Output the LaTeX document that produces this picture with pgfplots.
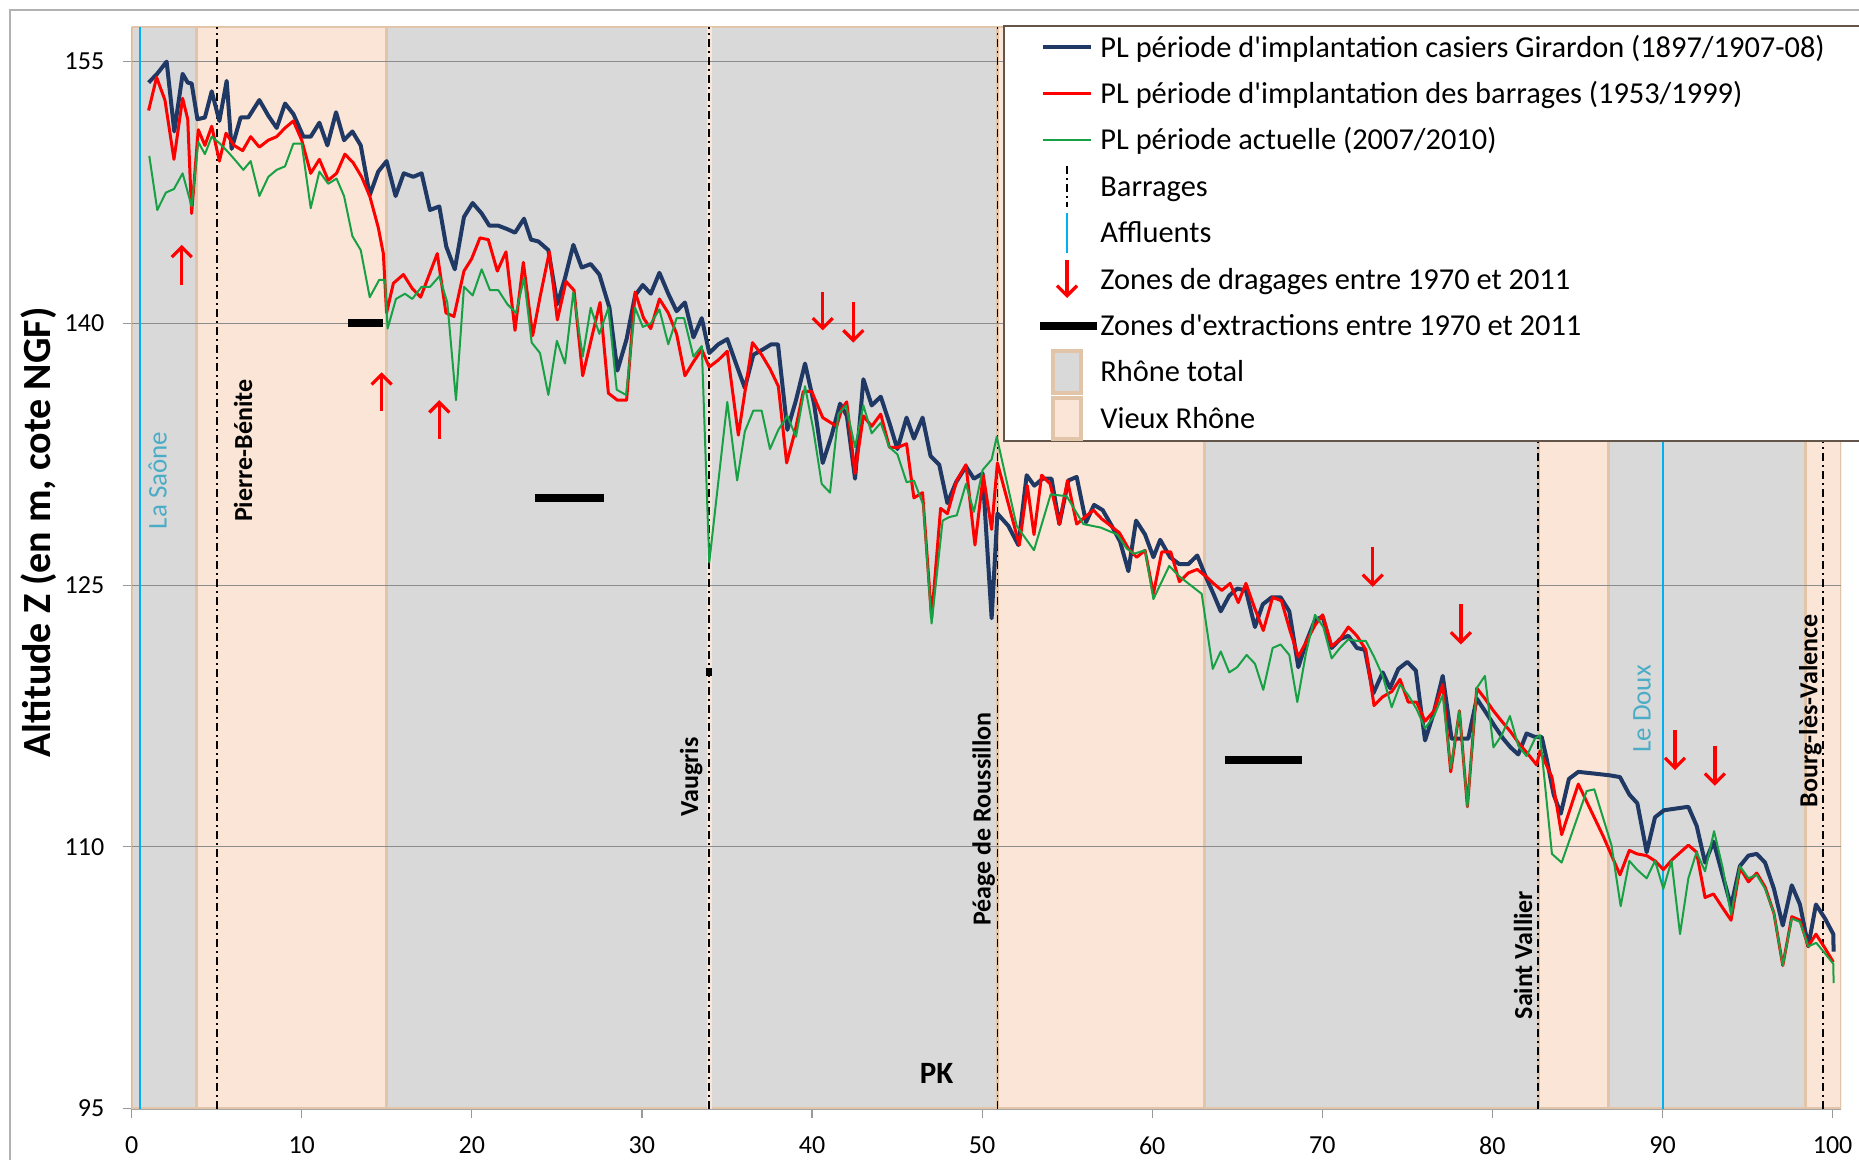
\documentclass[border=0pt]{standalone}
\usepackage{pgfplots}
\pgfplotsset{compat=1.18}
\usepackage{fontspec}
\setmainfont{Carlito}[Ligatures=TeXOff]
\usetikzlibrary{arrows.meta}
\definecolor{girardon}{RGB}{31,56,100}
\definecolor{barr}{RGB}{255,0,0}
\definecolor{actu}{RGB}{24,160,69}
\definecolor{bandgray}{RGB}{217,217,217}
\definecolor{peach}{RGB}{251,229,214}
\definecolor{tanb}{RGB}{226,196,168}
\definecolor{affl}{RGB}{0,176,240}
\definecolor{afftext}{RGB}{75,172,198}
\definecolor{gridc}{RGB}{140,140,140}
\definecolor{legb}{RGB}{100,85,75}
\newcommand{\legfont}{\fontsize{15.2bp}{18bp}\selectfont}
\tikzset{damline/.style={black, line width=0.9bp, dash pattern=on 4bp off 2bp on 1bp off 2bp},
  dragarrow/.style={red, line width=1.6bp, -{Straight Barb[length=5bp,width=10bp,line width=1.6bp]}}}

\pgfplotstableread[row sep=\\]{
x y\\
1.0 153.8\\ 1.5 154.3\\ 2.06 155.0\\ 2.51 151.0\\ 3.0 154.3\\ 3.3 153.8\\ 3.53 153.75\\ 3.87 151.7\\
4.31 151.8\\ 4.71 153.3\\ 5.16 151.6\\ 5.59 153.9\\ 5.88 150.0\\ 6.41 151.8\\ 6.86 151.8\\ 7.51 152.8\\
8.04 151.9\\ 8.53 151.2\\ 9.02 152.6\\ 9.51 152.0\\ 10.1 150.7\\ 10.53 150.7\\ 11.04 151.5\\ 11.51 150.2\\
12.02 152.1\\ 12.49 150.5\\ 12.98 151.0\\ 13.47 150.2\\ 14.0 147.35\\ 14.5 148.7\\ 14.99 149.3\\ 15.52 147.3\\
16.0 148.6\\ 16.56 148.4\\ 17.05 148.6\\ 17.54 146.5\\ 18.09 146.7\\ 18.5 144.4\\ 19.0 143.1\\ 19.54 146.1\\
20.05 146.9\\ 20.58 146.3\\ 21.03 145.6\\ 21.56 145.6\\ 22.09 145.4\\ 22.54 145.2\\ 23.07 146.0\\ 23.48 144.8\\
23.91 144.7\\ 24.5 144.2\\ 25.03 141.1\\ 25.48 142.6\\ 25.97 144.5\\ 26.46 143.2\\ 26.99 143.4\\ 27.5 142.8\\
28.09 140.9\\ 28.56 137.3\\ 29.1 139.1\\ 29.6 141.6\\ 30.05 142.2\\ 30.52 141.7\\ 31.03 142.9\\ 31.55 141.7\\
32.04 140.7\\ 32.53 141.2\\ 33.03 139.2\\ 33.52 140.3\\ 33.96 138.3\\ 34.49 138.8\\ 35.02 139.1\\ 35.53 137.7\\
36.05 136.3\\ 36.55 138.2\\ 37.1 138.5\\ 37.6 138.8\\ 38.0 138.8\\ 38.55 133.9\\ 39.06 135.6\\ 39.59 137.7\\
40.12 135.4\\ 40.63 132.0\\ 41.16 133.6\\ 41.65 135.4\\ 42.05 134.7\\ 42.53 131.1\\ 43.02 136.8\\ 43.51 135.3\\
44.04 135.8\\ 44.55 134.3\\ 45.02 132.8\\ 45.56 134.6\\ 45.99 133.4\\ 46.5 134.6\\ 46.97 132.4\\ 47.48 131.9\\
47.96 129.7\\ 48.47 130.9\\ 49.05 131.8\\ 49.52 131.1\\ 50.03 131.4\\ 50.56 123.1\\ 50.9 129.1\\ 51.54 128.4\\
52.13 127.3\\ 52.62 131.3\\ 53.07 130.7\\ 53.56 131.1\\ 54.08 131.1\\ 54.54 128.5\\ 55.07 131.0\\ 55.56 131.2\\
56.11 128.6\\ 56.58 129.6\\ 57.09 129.3\\ 57.62 128.4\\ 58.11 127.5\\ 58.6 125.8\\ 59.05 128.7\\ 59.58 127.9\\
60.07 126.6\\ 60.47 127.6\\ 61.05 126.6\\ 61.6 126.2\\ 62.12 126.2\\ 62.65 126.7\\ 63.1 125.6\\ 63.6 124.5\\
64.03 123.5\\ 64.53 124.4\\ 65.0 124.8\\ 65.51 124.7\\ 66.04 122.6\\ 66.5 123.9\\ 67.02 124.3\\ 67.55 124.3\\
68.06 123.5\\ 68.59 120.3\\ 69.08 121.8\\ 69.57 123.0\\ 70.02 123.2\\ 70.55 121.4\\ 71.04 121.9\\ 71.53 122.1\\
72.03 121.4\\ 72.5 121.3\\ 73.0 118.8\\ 73.55 120.0\\ 73.98 119.1\\ 74.47 120.2\\ 75.0 120.6\\ 75.5 120.1\\
76.04 116.1\\ 76.53 117.6\\ 77.08 119.8\\ 77.6 116.2\\ 78.1 116.2\\ 78.58 116.2\\ 79.08 118.5\\ 79.62 117.7\\
80.15 116.9\\ 80.64 116.2\\ 81.07 115.7\\ 81.52 115.3\\ 82.01 116.5\\ 82.5 116.3\\ 82.9 116.3\\ 83.2 115.0\\
83.6 113.0\\ 84.02 111.9\\ 84.5 113.9\\ 85.05 114.3\\ 86.0 114.2\\ 86.91 114.1\\ 87.5 114.0\\ 88.05 113.0\\
88.52 112.5\\ 89.07 109.7\\ 89.56 111.7\\ 90.09 112.1\\ 91.52 112.3\\ 92.01 111.2\\ 92.5 109.1\\ 93.0 110.3\\
94.03 106.6\\ 94.55 108.9\\ 95.05 109.5\\ 95.54 109.6\\ 96.03 109.1\\ 96.55 107.6\\ 97.07 105.5\\ 97.6 107.8\\
98.08 106.7\\ 98.57 104.3\\ 99.02 106.7\\ 99.55 105.9\\ 100.04 105.0\\ 100.06 104.0\\
}\girardon

\pgfplotstableread[row sep=\\]{
x y\\
1.0 152.2\\ 1.47 154.1\\ 1.96 152.8\\ 2.49 149.4\\ 3.0 152.9\\ 3.3 151.7\\ 3.53 146.3\\ 3.92 151.1\\
4.31 150.2\\ 4.71 151.3\\ 5.16 149.3\\ 5.55 150.9\\ 6.02 150.2\\ 6.53 149.9\\ 7.0 150.7\\ 7.51 150.1\\
8.04 150.5\\ 8.53 150.7\\ 9.02 151.2\\ 9.51 151.6\\ 10.0 150.5\\ 10.53 148.6\\ 11.04 149.4\\ 11.56 148.2\\
12.05 148.6\\ 12.54 149.7\\ 13.03 149.2\\ 13.52 148.4\\ 14.0 147.3\\ 14.5 145.5\\ 14.8 144.0\\ 14.99 140.6\\
15.39 142.3\\ 15.98 142.8\\ 16.5 142.0\\ 16.99 141.5\\ 17.97 144.0\\ 18.48 140.6\\ 18.95 140.4\\ 19.54 143.0\\
19.99 143.7\\ 20.48 144.9\\ 20.97 144.8\\ 21.5 143.0\\ 22.01 144.1\\ 22.54 139.6\\ 23.03 143.5\\ 23.58 139.3\\
24.01 141.5\\ 24.56 144.1\\ 25.03 140.2\\ 25.54 142.4\\ 26.01 141.9\\ 26.52 137.0\\ 27.05 139.2\\ 27.54 141.2\\
28.03 136.0\\ 28.56 135.6\\ 29.1 135.6\\ 29.6 141.8\\ 30.1 140.3\\ 30.52 139.7\\ 31.03 141.4\\ 31.55 140.6\\
32.04 139.4\\ 32.53 137.0\\ 33.03 137.8\\ 33.52 138.5\\ 33.96 137.5\\ 34.49 137.9\\ 35.02 138.4\\ 35.67 133.6\\
36.5 138.9\\ 37.04 138.2\\ 37.53 137.4\\ 38.02 136.4\\ 38.51 132.0\\ 39.0 133.8\\ 39.49 136.1\\ 39.98 136.1\\
40.63 134.6\\ 41.45 134.1\\ 41.75 135.1\\ 42.04 135.5\\ 42.53 131.4\\ 43.02 134.7\\ 43.51 134.1\\ 44.04 134.8\\
44.55 132.9\\ 45.07 132.9\\ 45.56 133.1\\ 45.99 130.0\\ 46.5 130.3\\ 47.03 123.1\\ 47.56 129.4\\ 47.96 129.1\\
48.51 131.0\\ 49.05 131.9\\ 49.58 127.3\\ 50.07 131.3\\ 50.56 128.2\\ 50.9 132.0\\ 52.19 127.3\\ 52.66 130.7\\
53.05 127.9\\ 53.5 131.3\\ 54.0 130.8\\ 54.54 128.5\\ 55.02 131.0\\ 55.56 128.5\\ 56.05 128.9\\ 56.54 129.3\\
57.03 128.8\\ 57.56 128.4\\ 58.07 128.0\\ 58.6 127.1\\ 59.09 126.6\\ 59.58 127.0\\ 60.07 124.5\\ 60.56 126.9\\
61.09 126.9\\ 61.6 125.2\\ 62.12 125.7\\ 62.65 125.9\\ 63.16 125.5\\ 63.6 125.1\\ 64.09 124.7\\ 64.58 125.1\\
65.06 124.0\\ 65.51 125.1\\ 65.98 123.8\\ 66.53 122.4\\ 67.08 124.3\\ 67.6 124.1\\ 68.1 122.4\\ 68.59 120.9\\
69.08 121.8\\ 69.57 122.7\\ 70.02 123.3\\ 70.55 121.5\\ 71.04 121.9\\ 71.53 122.6\\ 72.03 122.1\\ 72.56 121.3\\
73.04 118.1\\ 73.55 118.6\\ 74.08 118.9\\ 74.57 119.6\\ 75.05 118.3\\ 75.54 118.3\\ 76.04 117.2\\ 76.57 117.8\\
77.08 119.3\\ 77.55 114.3\\ 78.06 117.8\\ 78.53 112.3\\ 79.08 119.1\\ 79.56 118.5\\ 80.06 117.8\\ 80.55 117.2\\
81.07 116.6\\ 81.58 115.9\\ 82.11 115.3\\ 82.6 114.7\\ 82.8 115.5\\ 83.5 114.0\\ 84.07 110.7\\ 85.05 113.6\\
86.52 110.6\\ 87.5 108.4\\ 88.05 109.8\\ 88.5 109.6\\ 89.07 109.5\\ 89.56 109.2\\ 90.05 108.7\\ 90.6 109.3\\
91.52 110.1\\ 92.0 109.7\\ 92.5 107.1\\ 93.0 107.3\\ 93.54 106.5\\ 94.03 105.8\\ 94.55 108.8\\ 95.05 108.0\\
95.54 108.5\\ 96.03 107.7\\ 96.55 106.2\\ 97.07 103.2\\ 97.6 106.0\\ 98.08 105.8\\ 98.57 104.3\\ 99.02 105.0\\
99.55 104.2\\ 100.04 103.4\\
}\barrages

\pgfplotstableread[row sep=\\]{
x y\\
1.04 149.6\\ 1.51 146.5\\ 2.02 147.5\\ 2.49 147.7\\ 3.0 148.6\\ 3.53 146.7\\ 3.92 150.4\\ 4.31 149.7\\
4.71 150.7\\ 5.2 150.3\\ 5.69 149.8\\ 6.14 149.3\\ 6.57 148.8\\ 7.0 149.3\\ 7.51 147.3\\ 8.04 148.4\\
8.53 148.8\\ 9.02 149.0\\ 9.51 150.3\\ 10.0 150.3\\ 10.53 146.6\\ 11.04 148.7\\ 11.56 148.0\\ 12.05 148.3\\
12.49 147.3\\ 12.98 145.0\\ 13.47 144.2\\ 14.0 141.5\\ 14.56 142.5\\ 14.9 142.5\\ 15.05 139.7\\ 15.54 141.4\\
16.07 141.7\\ 16.5 141.4\\ 17.05 142.1\\ 17.55 142.1\\ 18.09 142.7\\ 18.56 141.2\\ 19.07 135.6\\ 19.54 142.1\\
20.05 141.6\\ 20.58 143.1\\ 21.07 141.9\\ 21.56 141.9\\ 22.09 141.1\\ 22.6 140.6\\ 23.07 142.6\\ 23.52 138.9\\
24.01 138.3\\ 24.5 135.9\\ 25.0 139.0\\ 25.48 137.7\\ 25.97 141.8\\ 26.52 138.1\\ 26.99 140.9\\ 27.5 139.4\\
28.03 140.9\\ 28.52 136.2\\ 29.07 135.9\\ 29.6 140.9\\ 30.05 139.8\\ 30.52 140.0\\ 31.03 140.8\\ 31.55 138.8\\
32.04 140.3\\ 32.48 140.3\\ 33.03 138.1\\ 33.52 138.7\\ 33.96 126.3\\ 35.02 135.5\\ 35.6 131.0\\ 36.05 133.8\\
36.55 135.0\\ 37.04 135.0\\ 37.53 132.8\\ 38.02 133.9\\ 38.55 134.7\\ 39.06 133.5\\ 39.59 136.4\\ 40.08 133.9\\
40.57 130.8\\ 41.06 130.3\\ 41.55 134.8\\ 42.0 135.3\\ 42.53 132.9\\ 43.02 135.3\\ 43.51 133.7\\ 44.04 134.3\\
44.55 132.9\\ 45.02 132.5\\ 45.56 130.9\\ 45.99 131.0\\ 46.54 129.6\\ 47.03 122.8\\ 47.68 128.7\\ 48.07 128.9\\
48.51 129.0\\ 49.05 130.8\\ 49.52 129.2\\ 50.03 131.6\\ 50.56 132.2\\ 50.86 133.5\\ 52.03 128.4\\ 53.05 127.0\\
54.03 130.2\\ 54.97 130.1\\ 55.95 128.5\\ 56.97 128.3\\ 57.95 127.9\\ 58.5 127.1\\ 58.93 126.8\\ 59.58 127.0\\
60.07 124.2\\ 61.0 126.1\\ 61.6 125.5\\ 62.12 125.1\\ 62.91 124.5\\ 63.56 120.2\\ 64.03 121.2\\ 64.53 120.0\\
65.0 120.3\\ 65.55 121.0\\ 66.04 120.5\\ 66.53 119.0\\ 67.08 121.4\\ 67.55 121.6\\ 68.06 121.0\\ 68.53 118.3\\
69.04 121.1\\ 69.57 123.3\\ 70.06 122.6\\ 70.55 120.8\\ 71.04 121.4\\ 71.53 121.9\\ 72.03 121.8\\ 72.56 121.8\\
73.04 120.9\\ 73.55 119.8\\ 74.08 118.0\\ 74.57 119.3\\ 75.05 118.7\\ 75.54 117.9\\ 76.04 116.8\\ 76.57 117.5\\
77.08 118.7\\ 77.55 114.5\\ 78.06 117.8\\ 78.53 112.3\\ 79.08 119.1\\ 79.56 119.8\\ 80.06 115.7\\ 80.55 116.4\\
81.03 117.5\\ 81.52 115.8\\ 82.01 115.2\\ 82.5 116.2\\ 82.8 116.4\\ 83.5 109.6\\ 84.07 109.1\\ 85.54 113.2\\
85.99 113.3\\ 87.0 110.1\\ 87.54 106.6\\ 88.05 109.2\\ 88.5 108.7\\ 89.07 108.2\\ 89.56 109.2\\ 90.05 107.6\\
90.53 109.2\\ 91.03 105.0\\ 91.52 108.2\\ 92.0 109.7\\ 92.5 108.6\\ 93.03 110.9\\ 93.54 108.8\\ 94.03 106.1\\
94.55 108.9\\ 95.05 108.2\\ 95.54 108.4\\ 96.03 107.6\\ 96.55 106.2\\ 97.07 103.2\\ 97.6 105.9\\ 98.08 105.7\\
98.57 104.3\\ 99.04 104.5\\ 99.55 103.9\\ 100.04 103.3\\ 100.06 102.2\\
}\actuelle

\pgfplotstableread[row sep=\\]{
x y v\\
2.95 142.2 2.3\\
14.7 135.0 2.2\\
18.09 133.4 2.2\\
40.63 141.8 -2.2\\
42.43 141.2 -2.3\\
72.96 127.2 -2.3\\
78.15 123.9 -2.3\\
90.73 116.7 -2.3\\
93.08 115.8 -2.3\\
}\arrows

\begin{document}
\begin{tikzpicture}
\path[use as bounding box] (0,0) rectangle (929.5bp,580bp);
\draw[gray!60, line width=1bp] (5bp,-5bp) -- (5bp,575bp) -- (945bp,575bp);
\begin{axis}[
  at={(65.8bp,25.675bp)}, anchor=south west,
  width=854.75bp, height=540.95bp, scale only axis,
  xmin=0, xmax=100.5, ymin=95, ymax=157,
  xtick={0,10,...,100}, ytick={95,110,125,140,155},
  axis lines=left,
  axis line style={-},
  x axis line style={draw=gray!70, line width=1.2bp},
  y axis line style={draw=gray!50, line width=0.6bp},
  tick align=outside, major tick length=4.5bp,
  tick style={draw=gray!80, line width=0.6bp},
  ticklabel style={font=\fontsize{13bp}{15bp}\selectfont},
  /pgf/number format/assume math mode=true,
  xticklabel style={anchor=north, inner sep=0pt, yshift=-9.5bp},
  yticklabel style={anchor=east, inner sep=0pt, xshift=-9bp},
]
% bands
\addplot[fill=bandgray, draw=tanb, line width=1.5bp, forget plot] coordinates {(0,95) (0,157) (100.5,157) (100.5,95)} -- cycle;
\addplot[fill=peach, draw=tanb, line width=1.5bp, forget plot] coordinates {(3.8,95) (3.8,157) (15.0,157) (15.0,95)} -- cycle;
\addplot[fill=peach, draw=tanb, line width=1.5bp, forget plot] coordinates {(50.9,95) (50.9,157) (63.1,157) (63.1,95)} -- cycle;
\addplot[fill=peach, draw=tanb, line width=1.5bp, forget plot] coordinates {(82.7,95) (82.7,157) (86.8,157) (86.8,95)} -- cycle;
\addplot[fill=peach, draw=tanb, line width=1.5bp, forget plot] coordinates {(98.4,95) (98.4,157) (100.5,157) (100.5,95)} -- cycle;
\addplot[fill=peach, draw=none, forget plot] coordinates {(33.8,95) (33.8,157) (34.1,157) (34.1,95)} -- cycle;
% grid
\addplot[gridc, line width=0.6bp] coordinates {(0,110) (100.5,110)};
\addplot[gridc, line width=0.6bp] coordinates {(0,125) (100.5,125)};
\addplot[gridc, line width=0.6bp] coordinates {(0,140) (100.5,140)};
\addplot[gridc, line width=0.6bp] coordinates {(0,155) (100.5,155)};
% dams and tributaries
\addplot[damline] coordinates {(5.0,95) (5.0,157)};
\addplot[damline] coordinates {(33.95,95) (33.95,157)};
\addplot[damline] coordinates {(50.9,95) (50.9,157)};
\addplot[damline] coordinates {(82.7,95) (82.7,157)};
\addplot[damline] coordinates {(99.45,95) (99.45,157)};
\addplot[affl, line width=1bp] coordinates {(0.5,95) (0.5,157)};
\addplot[affl, line width=1bp] coordinates {(90.05,95) (90.05,157)};
% series
\addplot[girardon, line width=2bp, line join=round] table[x=x,y=y] {\girardon};
\addplot[barr, line width=1.5bp, line join=round] table[x=x,y=y] {\barrages};
\addplot[actu, line width=1bp, line join=round] table[x=x,y=y] {\actuelle};
% extraction zones
\addplot[black, line width=4bp] coordinates {(12.75,140) (14.8,140)};
\addplot[black, line width=4bp] coordinates {(23.7,130) (27.8,130)};
\addplot[black, line width=4bp] coordinates {(33.75,120) (34.1,120)};
\addplot[black, line width=4bp] coordinates {(64.25,115) (68.8,115)};
% dredging arrows
\addplot[dragarrow, no markers, quiver={u=0, v=\thisrow{v}}] table[x=x,y=y] {\arrows};
% labels
\node[rotate=90, text=afftext, font=\fontsize{13.5bp}{16bp}\selectfont] at (axis cs:1.53,131.0) {La Saône};
\node[rotate=90, font=\bfseries\fontsize{13bp}{16bp}\selectfont] at (axis cs:6.55,132.7) {Pierre-Bénite};
\node[rotate=90, font=\bfseries\fontsize{13bp}{16bp}\selectfont] at (axis cs:32.9,114.0) {Vaugris};
\node[rotate=90, font=\bfseries\fontsize{13bp}{16bp}\selectfont] at (axis cs:50.1,111.6) {Péage de Roussillon};
\node[rotate=90, font=\bfseries\fontsize{13bp}{16bp}\selectfont] at (axis cs:81.8,103.8) {Saint Vallier};
\node[rotate=90, text=afftext, font=\fontsize{13.5bp}{16bp}\selectfont] at (axis cs:88.8,117.9) {Le Doux};
\node[rotate=90, font=\bfseries\fontsize{13bp}{16bp}\selectfont] at (axis cs:98.7,117.8) {Bourg-lès-Valence};
\node[font=\bfseries\fontsize{15.5bp}{18bp}\selectfont] at (axis cs:47.33,97.0) {PK};
\end{axis}
% y label
\node[rotate=90, font=\bfseries\fontsize{20bp}{24bp}\selectfont] at (19.5bp,313.8bp) {Altitude Z (en m, cote NGF)};
% legend
\draw[legb, line width=0.8bp, fill=white] (502bp,359.5bp) rectangle (950bp,567bp);
\draw[girardon, line width=2bp] (521.5bp,556.3bp) -- (545.5bp,556.3bp);
\draw[barr, line width=1.5bp] (521.5bp,533.1bp) -- (545.5bp,533.1bp);
\draw[actu, line width=1bp] (521.5bp,509.9bp) -- (545.5bp,509.9bp);
\draw[damline] (533.5bp,497bp) -- (533.5bp,476.5bp);
\draw[affl, line width=1bp] (533.5bp,473.5bp) -- (533.5bp,453.5bp);
\draw[dragarrow] (533.5bp,450bp) -- (533.5bp,431bp);
\draw[black, line width=4bp] (520bp,417.1bp) -- (548.5bp,417.1bp);
\draw[fill=bandgray, draw=tanb, line width=2bp] (526.5bp,383.4bp) rectangle (540.5bp,404.4bp);
\draw[fill=peach, draw=tanb, line width=2bp] (526.5bp,360.5bp) rectangle (540.5bp,381.2bp);
\begin{scope}[every node/.style={anchor=base west, inner sep=0pt, font=\legfont}]
\node at (550bp,551.4bp) {PL période d'implantation casiers Girardon (1897/1907-08)};
\node at (550bp,528.2bp) {PL période d'implantation des barrages (1953/1999)};
\node at (550bp,505.0bp) {PL période actuelle (2007/2010)};
\node at (550bp,481.8bp) {Barrages};
\node at (550bp,458.6bp) {Affluents};
\node at (550bp,435.4bp) {Zones de dragages entre 1970 et 2011};
\node at (550bp,412.2bp) {Zones d'extractions entre 1970 et 2011};
\node at (550bp,389.0bp) {Rhône total};
\node at (550bp,365.8bp) {Vieux Rhône};
\end{scope}
\end{tikzpicture}
\end{document}
